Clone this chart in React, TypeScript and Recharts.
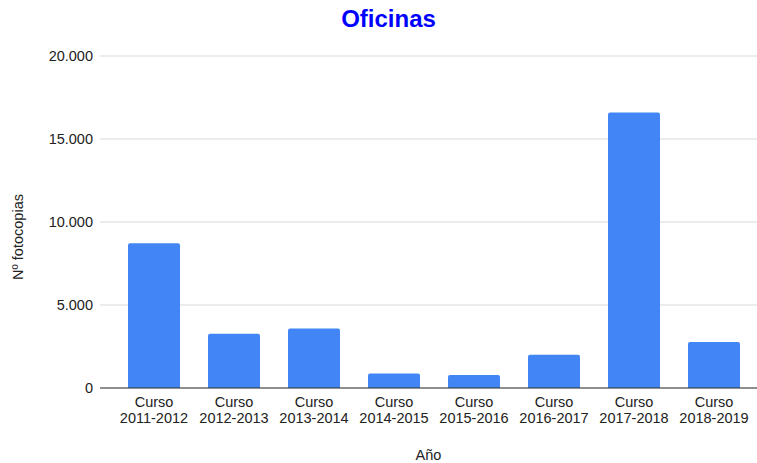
import React from 'react';
import { BarChart, Bar, XAxis, YAxis, CartesianGrid, Label } from 'recharts';

const courses = [
  'Curso 2011-2012',
  'Curso 2012-2013',
  'Curso 2013-2014',
  'Curso 2014-2015',
  'Curso 2015-2016',
  'Curso 2016-2017',
  'Curso 2017-2018',
  'Curso 2018-2019',
];
const copies = [8720, 3270, 3590, 870, 780, 2010, 16600, 2770];
const yTicks = [0, 5000, 10000, 15000, 20000];

const data = courses.map((course, i) => ({ course, copies: copies[i] }));

const FONT = '"Liberation Sans", Arial, sans-serif';

// 5000 -> "5.000"
const fmt = (v: number) => String(v).replace(/\B(?=(\d{3})+(?!\d))/g, '.');

function CourseTick({ x, y, payload }: any) {
  const [first, second] = String(payload.value).split(' ');
  return (
    <g transform={`translate(${x},${y})`}>
      <text textAnchor="middle" y={19} fill="#222" fontSize={14.5} fontFamily={FONT}>
        {first}
      </text>
      <text textAnchor="middle" y={35} fill="#222" fontSize={14.5} fontFamily={FONT}>
        {second}
      </text>
    </g>
  );
}

export default function App() {
  return (
    <div style={{ position: 'absolute', left: 0, top: 0, width: 757, height: 463, background: '#fff' }}>
      <div
        style={{
          position: 'absolute',
          top: 5,
          left: 0,
          width: 777,
          textAlign: 'center',
          fontFamily: FONT,
          fontWeight: 'bold',
          fontSize: 24,
          lineHeight: '28px',
          color: '#0000ff',
        }}
      >
        Oficinas
      </div>
      <BarChart
        width={757}
        height={463}
        data={data}
        margin={{ top: 56, right: 0, left: 0, bottom: 15 }}
      >
        <CartesianGrid vertical={false} stroke="#d9d9d9" />
        <XAxis
          dataKey="course"
          height={60}
          interval={0}
          tickLine={false}
          tickSize={0}
          tickMargin={0}
          padding={{ left: 14, right: 3 }}
          axisLine={{ stroke: '#333' }}
          tick={<CourseTick />}
        >
          <Label
            content={({ viewBox }: any) => (
              <text
                x={viewBox.x + viewBox.width / 2}
                y={460}
                textAnchor="middle"
                fill="#222"
                fontSize={14.5}
                fontFamily={FONT}
              >
                Año
              </text>
            )}
          />
        </XAxis>
        <YAxis
          width={100}
          domain={[0, 20000]}
          ticks={yTicks}
          tickFormatter={fmt}
          tickLine={false}
          axisLine={false}
          tickSize={0}
          tickMargin={7}
          tick={{ fill: '#222', fontSize: 14.5, fontFamily: FONT }}
        >
          <Label
            content={() => (
              <text
                x={23}
                y={237}
                transform="rotate(-90 23 237)"
                textAnchor="middle"
                fill="#222"
                fontSize={14.5}
                fontFamily={FONT}
              >
                Nº fotocopias
              </text>
            )}
          />
        </YAxis>
        <Bar
          dataKey="copies"
          fill="#4285f4"
          barSize={52}
          radius={[2, 2, 0, 0]}
          isAnimationActive={false}
        />
      </BarChart>
    </div>
  );
}
